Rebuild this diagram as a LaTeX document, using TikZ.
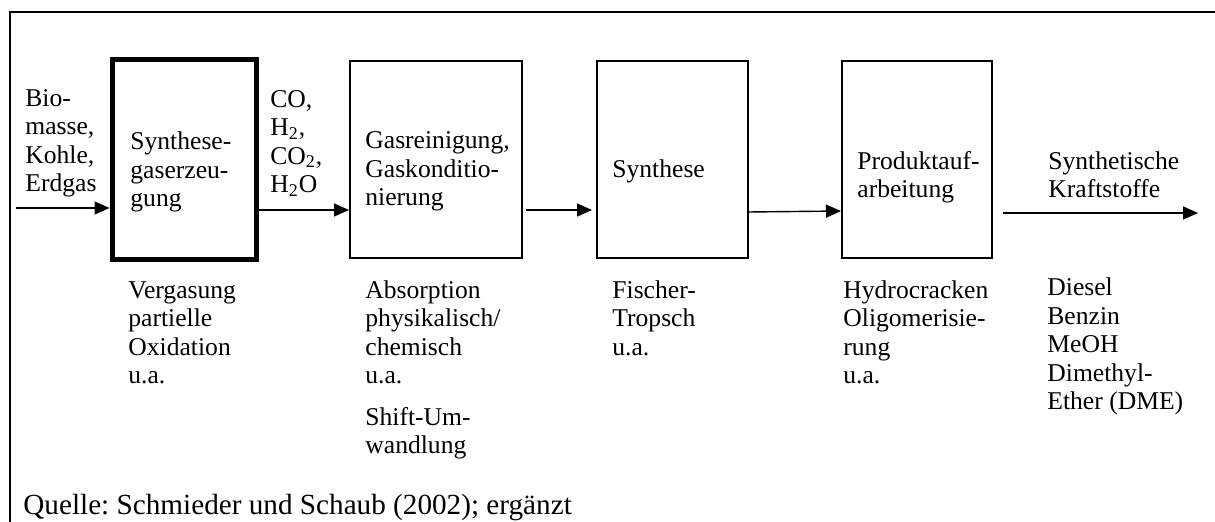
\documentclass[tikz,border=0pt]{standalone}
\usepackage{fontspec}
\setmainfont{Liberation Serif}
\usetikzlibrary{arrows.meta}
\begin{document}
\frenchspacing
\begin{tikzpicture}[x=0.5pt,y=-0.5pt,
  every node/.style={font=\frenchspacing\fontsize{12.8}{14.3}\selectfont},
  txt/.style={anchor=base west, inner sep=0pt, align=left},
  srctxt/.style={txt, font=\frenchspacing\fontsize{14.6}{16}\selectfont},
  procbox/.style={draw, line width=1pt, inner sep=0pt},
  thickbox/.style={draw, line width=2.5pt, inner sep=0pt},
  arr/.style={-{Triangle[length=7.5pt,width=6.5pt]}, line width=0.7pt},
  frame/.style={line width=1pt}
]
\useasboundingbox (0,0) rectangle (1215,522);
\draw[frame] (1215,12) -- (10,12) -- (10,522);

% process boxes
\node[thickbox, minimum width=72pt, minimum height=100pt] (b1) at (184,160) {};
\node[procbox, minimum width=86pt, minimum height=98.5pt] (b2) at (436,159.5) {};
\node[procbox, minimum width=75.5pt, minimum height=98.5pt] (b3) at (672.5,159.5) {};
\node[procbox, minimum width=75pt, minimum height=98.5pt] (b4) at (917,159.5) {};

% texts (anchor = baseline of the last line)
\node[txt] (tin) at (25,192) {Bio-\\masse,\\Kohle,\\Erdgas};
\node[txt] (t1) at (130,207) {Synthese-\\gaserzeu-\\gung};
\node[txt] (tgas) at (270,193) {CO,\\H\textsubscript{2},\\CO\textsubscript{2},\\H\textsubscript{2}O};
\node[txt] (t2) at (365,206) {Gasreinigung,\\Gaskonditio-\\nierung};
\node[txt] (t3) at (612,178) {Synthese};
\node[txt] (t4) at (857,198) {Produktauf-\\arbeitung};
\node[txt] (tout) at (1048,198) {Synthetische\\Kraftstoffe};
\node[txt] (d1) at (128,384) {Vergasung\\partielle\\Oxidation\\u.a.};
\node[txt] (d2) at (365,384) {Absorption\\physikalisch/\\chemisch\\u.a.};
\node[txt] (d2b) at (365,454) {Shift-Um-\\wandlung};
\node[txt] (d3) at (612,355.4) {Fischer-\\Tropsch\\u.a.};
\node[txt] (d4) at (843,384) {Hydrocracken\\Oligomerisie-\\rung\\u.a.};
\node[txt] (d5) at (1047,410) {Diesel\\Benzin\\MeOH\\Dimethyl-\\Ether (DME)};
\node[srctxt] (src) at (23,515) {Quelle: Schmieder und Schaub (2002); ergänzt};

% connectors
\coordinate (inStart) at (16,208);
\coordinate (outStart) at (1003,213);
\coordinate (outEnd) at (1198,213);
\draw[arr] (inStart) -- (b1.west |- inStart);
\draw[arr] (b1.east |- 0,210) -- (b2.west |- 0,210);
\draw[arr, shorten <=1.5pt, shorten >=2pt] (b2.east |- 0,210) -- (b3.west |- 0,210);
\draw[arr] (b3.east |- 0,212) -- (b4.west |- 0,211);
\draw[arr] (outStart) -- (outEnd);
\end{tikzpicture}
\end{document}
